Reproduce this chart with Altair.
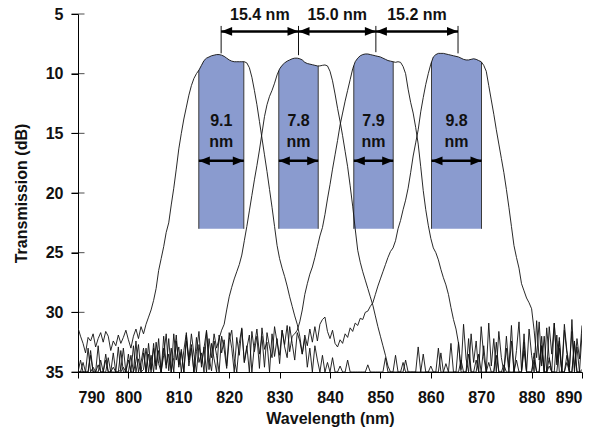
import altair as alt
import numpy as np
import pandas as pd

STEP = 0.5  # nm between samples

# ---------------- filter 1 ----------------
C1_LEFT = [31.3, 32.0, 32.6, 33.4, 32.1, 32.4, 31.8, 32.9, 32.2, 31.7, 32.5, 31.6, 32.0, 33.2,
           32.4, 32.8, 31.9, 32.6, 32.1, 31.5, 32.3, 33.0, 32.0, 31.4, 32.2, 31.2, 31.8, 31.0]
C1_MAIN = [30.4, 29.8, 29.0, 28.0, 26.5, 25.5, 24.5, 23.3, 22.5, 21.0,
           19.6, 18.0, 16.3, 15.0, 13.8, 12.8, 11.8, 11.0, 10.4, 10.0,
           9.7, 9.3, 8.9, 8.7, 8.6, 8.5, 8.45, 8.4, 8.4, 8.45,
           8.55, 8.7, 8.85, 8.95, 9.0, 9.0, 9.0, 9.0, 9.0, 9.1,
           9.5, 10.3, 11.4, 12.6, 14.0, 15.4, 16.8, 18.2, 19.7, 21.2,
           22.8, 24.4, 25.5, 26.3, 27.0, 27.8, 28.7, 29.5, 30.3, 31.0]
C1_RIGHT = [32.0, 33.5, 32.2, 34.6, 33.0, 35, 32.8, 34.0, 35, 33.6, 35, 34.2, 35, 33.8, 35, 35,
            34.5, 35, 35, 34.0, 35, 35, 35,
            35, 35, 35, 35, 34.4, 35, 35, 35, 35, 35,
            35, 33.8, 35, 35, 35, 35, 35, 35, 34.2, 35,
            35, 35, 35, 35, 35, 35, 33.5, 35, 35, 35,
            35, 35, 33.0, 35, 35, 34.3, 35, 35, 35, 35,
            32.5, 35, 35, 35, 33.5, 35, 35, 34.0, 35, 35,
            32.8, 35, 35, 35, 35, 33.6, 35, 35, 34.4, 35,
            35, 32.4, 35, 35, 35, 35, 33.2, 35, 35, 35,
            34.0, 35, 35, 32.0, 35, 35, 33.8, 35, 35, 35,
            33.0, 35, 35, 34.2, 35, 35, 32.6, 35, 35, 35]

# ---------------- filter 2 ----------------
C2_LEFT = [35, 35, 34.2, 35, 35, 33.6, 35, 35, 35, 34.0,
           35, 33.5, 35, 35, 34.6, 35, 35, 33.2, 35, 35,
           34.0, 35, 32.8, 35, 33.9, 35, 33.4, 35, 32.6, 34.8,
           33.0, 34.5, 32.2, 35, 33.6, 31.8, 34.9, 33.0, 35, 32.4,
           34.4, 33.1, 35, 31.9, 34.0, 32.7, 35, 33.3, 31.6, 34.6,
           32.9, 35, 32.2, 33.8, 31.8, 33.0, 32.2, 31.5]
C2_MAIN = [31.0, 29.8, 28.7, 27.9, 27.2, 26.6, 26.0, 25.2, 24.0, 22.8,
           21.5, 20.2, 18.9, 17.7, 16.4, 15.0, 13.6, 12.6, 11.9, 11.4,
           10.8, 10.1, 9.6, 9.3, 9.1, 8.95, 8.85, 8.75, 8.7, 8.7,
           8.75, 8.85, 9.05, 9.15, 9.2, 9.25, 9.3, 9.35, 9.35, 9.3,
           9.27, 9.35, 9.8, 10.6, 11.7, 12.9, 14.0, 15.2, 16.5, 17.8,
           19.4, 21.1, 23.0, 24.8, 25.8, 26.6, 27.3, 28.0, 28.7, 29.4,
           30.3, 31.2, 32.0, 32.8, 33.6]
C2_RIGHT = [34.5, 35, 35, 33.6, 35, 35, 35, 34.0, 35, 35,
            35, 35, 32.9, 35, 35, 35, 35, 34.5, 35, 35,
            35, 33.4, 35, 35, 35, 32.6, 35, 35, 35, 34.0,
            35, 35, 32.2, 35, 35, 35, 33.5, 35, 35, 35,
            34.2, 35, 35, 32.5, 35, 35, 35, 33.0, 35, 35,
            35, 34.0, 35, 35, 31.8, 35, 35, 35, 33.4, 35,
            35, 32.8, 35, 35, 34.5, 35, 35, 31.9, 35, 35,
            35, 33.6, 35, 35, 32.4, 35, 35, 34.8]

# ---------------- filter 3 ----------------
C3_LEFT = [35, 35, 35, 35, 33.0, 35, 34.6, 35, 32.8, 35,
           35, 34.0, 35, 35, 33.4, 35, 35, 34.8, 33.0, 35,
           35, 33.6, 35, 32.4, 35, 34.2, 33.0, 35, 33.5, 35,
           32.6, 34.8, 33.2, 35, 32.0, 34.4, 33.5, 35, 31.8, 34.0,
           32.9, 35, 33.2, 31.7, 34.5, 33.0, 35, 32.1, 34.2, 33.4,
           35, 31.6, 33.8, 34.9, 32.4, 33.6, 35, 32.0, 33.1, 34.7,
           32.3, 31.5, 33.9, 35, 32.6, 31.3, 34.2, 33.0, 31.9, 35,
           32.8, 31.4, 33.5, 32.0, 34.6, 31.7, 32.9, 33.8, 31.2, 32.5,
           33.6, 31.5, 32.7, 31.1, 33.3, 32.0, 31.8]
C3_MAIN = [31.5, 30.8, 29.8, 28.5, 27.6, 26.8, 26.2, 25.4, 24.5, 23.6,
           22.9, 21.8, 20.5, 19.3, 18.0, 16.8, 15.6, 14.3, 13.3, 12.3,
           11.4, 10.5, 9.6, 9.0, 8.7, 8.5, 8.4, 8.35, 8.35, 8.4,
           8.45, 8.5, 8.55, 8.6, 8.7, 8.8, 8.9, 8.95, 9.0, 9.05,
           9.0, 9.05, 9.4, 10.0, 11.3, 12.4, 13.3, 14.5, 15.9, 17.8,
           19.8, 21.4, 22.7, 23.8, 24.6, 25.0, 25.6, 26.4, 27.1, 27.7,
           28.5, 29.6, 30.6, 31.4]
C3_RIGHT = [32.6, 34.8, 31.0, 33.9, 35, 31.8, 34.2, 32.4, 35, 31.2,
            33.7, 35, 30.9, 34.5, 32.2, 35, 31.6, 33.8, 35, 32.0,
            34.6, 31.1, 35, 33.2, 30.8, 34.9, 32.5, 35, 31.4, 33.6,
            35, 30.7, 34.0, 32.8, 35, 31.3, 33.9, 35, 30.9, 34.4,
            32.1, 35, 31.5, 33.4, 35, 30.6, 34.7, 32.9, 35, 31.8]

# ---------------- filter 4 ----------------
C4_LEFT = [35, 34.0, 35, 35, 35, 33.2, 35, 35, 34.4, 35,
           35, 35, 33.8, 35, 35, 35, 32.9, 35, 34.6, 35,
           33.5, 35, 35, 34.1, 32.7, 35, 34.8, 33.0, 35, 33.6,
           35, 32.5, 34.3, 35, 33.0, 34.7, 32.2, 35, 33.8, 31.9,
           34.6, 33.3, 35, 32.4, 34.0, 31.8, 33.5, 35, 32.7, 34.3,
           33.0, 31.5, 34.8, 32.6, 33.9, 35, 31.9, 33.4, 32.3, 34.5,
           31.7, 33.0, 35, 32.1, 33.6, 31.4, 34.2, 32.8, 35, 31.6,
           33.3, 32.0, 34.7, 31.3, 33.1, 32.5, 35, 31.8, 33.7, 32.2,
           34.3, 31.5, 32.9, 33.8, 31.2, 32.6, 34.0, 31.7, 32.4, 33.5,
           31.9, 32.8, 31.4, 32.5]
C4_MAIN = [31.2, 32.4, 31.0, 30.6, 30.4, 31.6, 32.2, 31.5, 32.6, 32.9,
           32.3, 32.6, 31.8, 32.1, 31.3, 31.6, 30.9, 31.1, 30.5, 30.6,
           30.0, 29.9, 29.5,
           29.2, 28.5, 27.8, 27.2, 26.6, 26.0, 25.4, 24.9, 24.6, 24.0,
           23.0, 22.3, 21.4, 20.6, 19.6, 18.3, 16.9, 15.8, 14.7, 13.2,
           12.0, 10.9, 10.0, 9.2, 8.6, 8.4, 8.3, 8.3, 8.3, 8.35,
           8.4, 8.45, 8.5, 8.55, 8.6, 8.7, 8.8, 8.85, 8.85, 8.8,
           8.75, 8.8, 8.9, 9.0, 9.3, 9.8, 11.0, 12.2, 13.4, 14.7,
           15.9, 17.1, 18.3, 19.7, 21.2, 22.8, 24.4, 25.4, 26.3, 27.6,
           28.2, 28.8, 29.2, 29.7]
C4_RIGHT = [31.5, 33.8, 30.8, 34.5, 32.0, 35, 31.2, 33.5, 30.9, 34.2,
            32.4, 35, 31.0, 33.2, 34.6, 31.6, 35, 32.2, 33.9, 31.1]

CURVES = {
    "f1": [(790.0, C1_LEFT), (804.0, C1_MAIN), (834.0, C1_RIGHT)],
    "f2": [(790.0, C2_LEFT), (819.0, C2_MAIN), (851.5, C2_RIGHT)],
    "f3": [(790.0, C3_LEFT), (833.5, C3_MAIN), (865.5, C3_RIGHT)],
    "f4": [(790.0, C4_LEFT), (837.0, C4_MAIN), (880.5, C4_RIGHT)],
}

# 3-dB pass bands (shaded)
BAND_CURVE = ["f1", "f2", "f3", "f4"]
BAND_LEFT = [813.97, 829.84, 844.72, 860.14]
BAND_RIGHT = [822.9, 837.66, 852.54, 870.06]
BAND_VALUE = ["9.1", "7.8", "7.9", "9.8"]
BAND_UNIT = "nm"
BAND_BOTTOM_DB = 23.0
BAND_ARROW_DB = 17.3
BAND_VALUE_DB = 14.0
BAND_UNIT_DB = 15.75

# channel spacing
PEAK_WL = [818.4, 833.75, 849.1, 865.4]
PEAK_TOP_DB = [8.3, 8.45, 8.2, 8.3]
SPACING_LABEL = ["15.4 nm", "15.0 nm", "15.2 nm"]
SPACING_LINE_TOP_DB = 6.0
SPACING_ARROW_DB = 6.46
SPACING_TEXT_DB = 5.1

X_TICKS = [790, 800, 810, 820, 830, 840, 850, 860, 870, 880, 890]
Y_TICKS = [5, 10, 15, 20, 25, 30, 35]

FONT = "Liberation Sans"
BAND_COLOR = "#8A9BCF"

# ---------------- build tables ----------------
rows = []
for name, segs in CURVES.items():
    for start, vals in segs:
        for k, v in enumerate(vals):
            rows.append({"curve": name, "wl": start + STEP * k, "db": v})
curves_df = pd.DataFrame(rows)


def curve_at(name, wl):
    sub = curves_df[curves_df.curve == name].sort_values("wl")
    return float(np.interp(wl, sub.wl, sub.db))


band_frames, edge_rows, text_rows, warrow_rows, head_r, head_l = [], [], [], [], [], []
for b, name in enumerate(BAND_CURVE):
    L, R = BAND_LEFT[b], BAND_RIGHT[b]
    sub = curves_df[(curves_df.curve == name) & (curves_df.wl > L) & (curves_df.wl < R)]
    pts = [{"wl": L, "db": curve_at(name, L), "base": BAND_BOTTOM_DB}]
    for _, r in sub.iterrows():
        pts.append({"wl": float(r.wl), "db": float(r.db), "base": BAND_BOTTOM_DB})
    pts.append({"wl": R, "db": curve_at(name, R), "base": BAND_BOTTOM_DB})
    band_frames.append(pd.DataFrame(pts))
    for e in (L, R):
        edge_rows.append({"wl": e, "db": curve_at(name, e), "base": BAND_BOTTOM_DB})
    c = (L + R) / 2
    text_rows.append({"wl": c, "db": BAND_VALUE_DB, "label": BAND_VALUE[b]})
    text_rows.append({"wl": c, "db": BAND_UNIT_DB, "label": BAND_UNIT})
    warrow_rows.append({"wl": L, "wl2": R, "db": BAND_ARROW_DB})
    head_l.append({"wl": L, "db": BAND_ARROW_DB})
    head_r.append({"wl": R, "db": BAND_ARROW_DB})

vline_rows = [{"wl": w, "db": SPACING_LINE_TOP_DB, "db2": t} for w, t in zip(PEAK_WL, PEAK_TOP_DB)]
sp_rows, sp_text = [], []
for i, lab in enumerate(SPACING_LABEL):
    a, b2 = PEAK_WL[i], PEAK_WL[i + 1]
    sp_rows.append({"wl": a, "wl2": b2, "db": SPACING_ARROW_DB})
    head_l.append({"wl": a, "db": SPACING_ARROW_DB})
    head_r.append({"wl": b2, "db": SPACING_ARROW_DB})
    sp_text.append({"wl": (a + b2) / 2, "db": SPACING_TEXT_DB, "label": lab})

ytick_rows = [{"wl": 790, "db": v} for v in Y_TICKS]

# ---------------- encodings ----------------
xscale = alt.Scale(domain=[790, 890], nice=False, zero=False)
yscale = alt.Scale(domain=[5, 35], reverse=True, nice=False, zero=False)
xaxis = alt.Axis(values=X_TICKS, format="d", title="Wavelength (nm)", grid=False,
                 tickSize=6, labelPadding=11, titlePadding=5)
yaxis = alt.Axis(values=Y_TICKS, format="d", title="Transmission (dB)", grid=False,
                 tickSize=7, labelPadding=8, titlePadding=16)


def X(f="wl"):
    return alt.X(f, type="quantitative", scale=xscale, axis=xaxis)


def Y(f="db"):
    return alt.Y(f, type="quantitative", scale=yscale, axis=yaxis, stack=None)


areas = [alt.Chart(fr).mark_area(color=BAND_COLOR, opacity=1, line=False).encode(
    x=X(), y=Y(), y2=alt.Y2("base")) for fr in band_frames]
edges = alt.Chart(pd.DataFrame(edge_rows)).mark_rule(color="#3a3a3a", strokeWidth=1).encode(
    x=X(), y=Y(), y2=alt.Y2("base"))
lines = alt.Chart(curves_df).mark_line(color="#111111", strokeWidth=0.9, clip=True).encode(
    x=X(), y=Y(), detail="curve:N", order="wl:Q")
btext = alt.Chart(pd.DataFrame(text_rows)).mark_text(
    font=FONT, fontSize=16, fontWeight="bold", color="#111111", align="center", baseline="middle").encode(
    x=X(), y=Y(), text="label:N")
warrow = alt.Chart(pd.DataFrame(warrow_rows)).mark_rule(color="black", strokeWidth=2.5).encode(
    x=X(), x2="wl2", y=Y())
vlines = alt.Chart(pd.DataFrame(vline_rows)).mark_rule(color="#111111", strokeWidth=1).encode(
    x=X(), y=Y(), y2=alt.Y2("db2"))
sparrow = alt.Chart(pd.DataFrame(sp_rows)).mark_rule(color="black", strokeWidth=2.5).encode(
    x=X(), x2="wl2", y=Y())
hr = alt.Chart(pd.DataFrame(head_r)).mark_point(
    shape="M0,0L-2,-0.8L-2,0.8Z", filled=True, size=121, color="black", opacity=1, strokeWidth=0).encode(
    x=X(), y=Y())
hl = alt.Chart(pd.DataFrame(head_l)).mark_point(
    shape="M0,0L2,-0.8L2,0.8Z", filled=True, size=121, color="black", opacity=1, strokeWidth=0).encode(
    x=X(), y=Y())
sptext = alt.Chart(pd.DataFrame(sp_text)).mark_text(
    font=FONT, fontSize=16, fontWeight="bold", color="#111111", align="center", baseline="middle").encode(
    x=X(), y=Y(), text="label:N")
yticks = alt.Chart(pd.DataFrame(ytick_rows)).mark_tick(
    orient="horizontal", size=13, thickness=1, color="black").encode(x=X(), y=Y())

chart = alt.layer(*areas, edges, lines, btext, warrow, vlines, sparrow, hr, hl, sptext, yticks).properties(
    width=504, height=358,
    padding={"left": 78, "top": 14, "right": 22, "bottom": 68},
    autosize=alt.AutoSizeParams(type="none"),
    background="white",
).configure_view(stroke=None).configure_axis(
    labelFont=FONT, titleFont=FONT, labelFontSize=16, titleFontSize=16,
    labelFontWeight="bold", titleFontWeight="bold", labelColor="#111111", titleColor="#111111",
    domainColor="black", tickColor="black", domainWidth=1, tickWidth=1,
)

chart.save("out.html", embed_options={"renderer": "svg", "actions": False})
